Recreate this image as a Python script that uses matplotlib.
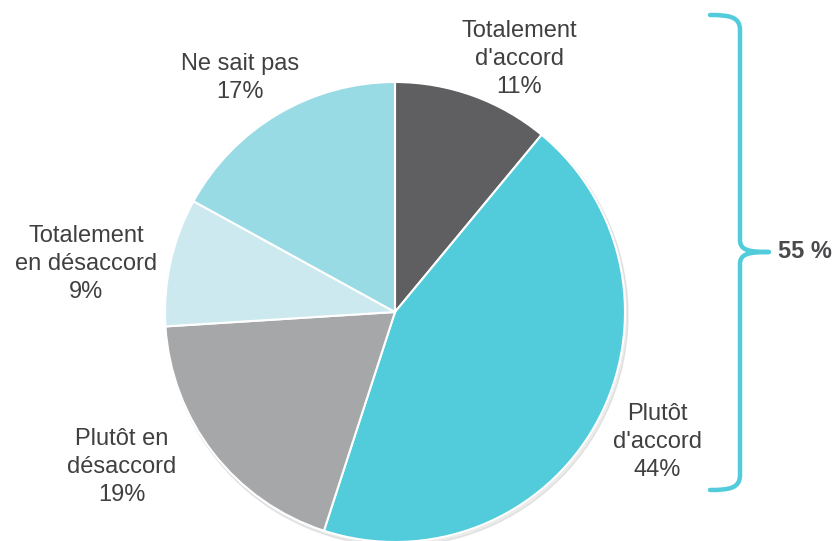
import matplotlib.pyplot as plt
from matplotlib.path import Path
from matplotlib.patches import PathPatch, Circle

plt.rcParams['font.family'] = ['Liberation Sans', 'DejaVu Sans']

# data
categories = ["Totalement\nd'accord", "Plutôt\nd'accord", "Plutôt en\ndésaccord",
              "Totalement\nen désaccord", "Ne sait pas"]
values = [11, 44, 19, 9, 17]
colors = ['#5f5f61', '#52cbdb', '#a6a7a9', '#cce9f0', '#99dbe4']
agree_total = 55

W, H = 832, 541
fig = plt.figure(figsize=(W / 100, H / 100), dpi=100)
ax = fig.add_axes([0, 0, 1, 1])

cx, cy, r = 395, H - 312, 230

# faint shadow
ax.add_patch(Circle((cx + 2, cy - 3), r + 1, color='black', alpha=0.08, zorder=0))

ax.pie(values, colors=colors, startangle=90, counterclock=False,
       center=(cx, cy), radius=r, frame=True,
       wedgeprops=dict(edgecolor='white', linewidth=1.5))
ax.set_xlim(0, W)
ax.set_ylim(0, H)
ax.set_aspect('equal')
ax.axis('off')

# label positions (pixels from top-left)
label_pos = [(519, 59), (657, 442), (122, 467), (86, 264), (240, 78)]
for name, v, (lx, ly) in zip(categories, values, label_pos):
    ax.text(lx, H - ly, f"{name}\n{v}%", ha='center', va='center',
            fontsize=17, color='#404040', linespacing=1.38)

# bracket
bc = '#52cbdb'
xv, xl, xt = 740, 710, 769
yt, yb, ym = H - 15, H - 490, H - 252
verts = [
    (xl, yt), (730, yt), (xv, yt - 2), (xv, yt - 15),
    (xv, ym + 12),
    (xv, ym + 2), (748, ym), (xt, ym),
    (748, ym), (xv, ym - 2), (xv, ym - 12),
    (xv, yb + 15),
    (xv, yb + 2), (730, yb), (xl, yb),
]
codes = [Path.MOVETO, Path.CURVE4, Path.CURVE4, Path.CURVE4,
         Path.LINETO,
         Path.CURVE4, Path.CURVE4, Path.CURVE4,
         Path.CURVE4, Path.CURVE4, Path.CURVE4,
         Path.LINETO,
         Path.CURVE4, Path.CURVE4, Path.CURVE4]
ax.add_patch(PathPatch(Path(verts, codes), facecolor='none', edgecolor=bc,
                       linewidth=3.2, capstyle='round', joinstyle='round'))
ax.text(805, ym, f"{agree_total} %", ha='center', va='center',
        fontsize=17, fontweight='bold', color='#4a4a4c')

fig.savefig('out.png', dpi=100)
